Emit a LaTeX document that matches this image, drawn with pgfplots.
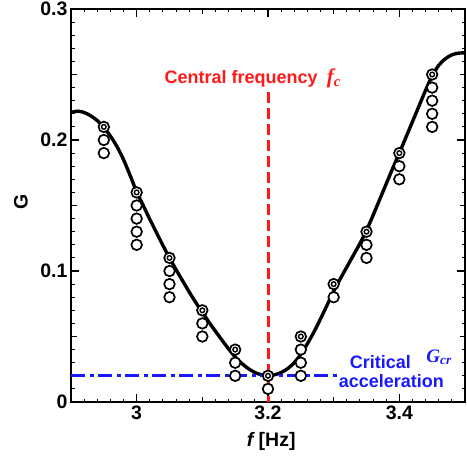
\documentclass[border=0pt]{standalone}
\usepackage{fontspec}
\setmainfont{Liberation Sans}
\newfontfamily\tms{Liberation Serif}
\usepackage{pgfplots}
\pgfplotsset{compat=1.18}
\definecolor{mred}{RGB}{255,25,25}
\definecolor{mblue}{RGB}{25,25,255}
\begin{document}
\begin{tikzpicture}
\begin{axis}[
    name=ax,
    scale only axis,
    width=394pt, height=393pt,
    xmin=2.9, xmax=3.5, ymin=0, ymax=0.3,
    xtick={3,3.2,3.4},
    ytick={0,0.1,0.2,0.3},
    minor xtick={2.92,2.94,2.96,2.98,3.02,3.04,3.06,3.08,3.12,3.14,3.16,3.18,3.22,3.24,3.26,3.28,3.32,3.34,3.36,3.38,3.42,3.44,3.46,3.48},
    minor ytick={0.01,0.02,0.03,0.04,0.06,0.07,0.08,0.09,0.11,0.12,0.13,0.14,0.16,0.17,0.18,0.19,0.21,0.22,0.23,0.24,0.26,0.27,0.28,0.29},
    extra x ticks={3.1,3.3},
    extra y ticks={0.05,0.15,0.25},
    extra x tick labels={},
    extra y tick labels={},
    extra tick style={major tick length=5.5pt},
    tick align=inside,
    major tick length=8pt,
    minor tick length=3.5pt,
    tick style={line width=1.1pt, black},
    axis line style={line width=2pt},
    ticklabel style={font=\fontsize{19.5}{19.5}\selectfont\bfseries},
    /pgf/number format/assume math mode=true,
    xlabel={{\bfseries\itshape f} \bfseries [Hz]},
    ylabel={\bfseries G},
    every axis x label/.style={at={(axis description cs:0.508,-0.101)}, anchor=center, font=\fontsize{19.5}{19.5}\selectfont},
    every axis y label/.style={at={(axis description cs:-0.127,0.51)}, anchor=center, rotate=90, font=\fontsize{19.5}{19.5}\selectfont},
]

% fitted curve
\addplot[black, line width=3.4pt, smooth] coordinates {
(2.90,0.2210) (2.91,0.2220) (2.92,0.2210) (2.93,0.2185) (2.94,0.2148)
(2.95,0.2095) (2.96,0.2030) (2.97,0.1950) (2.98,0.1850) (2.99,0.1730)
(3.00,0.1605) (3.01,0.1500) (3.02,0.1395) (3.03,0.1295) (3.04,0.1195)
(3.05,0.1100) (3.06,0.1010) (3.07,0.0925) (3.08,0.0840) (3.09,0.0760)
(3.10,0.0685) (3.11,0.0610) (3.12,0.0540) (3.13,0.0472) (3.14,0.0405)
(3.15,0.0345) (3.16,0.0295) (3.17,0.0255) (3.18,0.0225) (3.19,0.0208)
(3.20,0.0202) (3.21,0.0208) (3.22,0.0225) (3.23,0.0255) (3.24,0.0300)
(3.25,0.0365) (3.26,0.0445) (3.27,0.0535) (3.28,0.0635) (3.29,0.0740)
(3.30,0.0845) (3.31,0.0940) (3.32,0.1030) (3.33,0.1120) (3.34,0.1210)
(3.35,0.1310) (3.36,0.1425) (3.37,0.1545) (3.38,0.1665) (3.39,0.1785)
(3.40,0.1900) (3.41,0.2020) (3.42,0.2140) (3.43,0.2260) (3.44,0.2380)
(3.45,0.2490) (3.46,0.2570) (3.47,0.2620) (3.48,0.2650) (3.49,0.2663)
(3.50,0.2665)
};

% critical acceleration
\addplot[mblue, line width=3pt, dash pattern=on 14pt off 4.5pt on 4pt off 4.5pt] coordinates {(2.9,0.02) (3.305,0.02)};

% measured points
\addplot[only marks, mark=*, mark size=5.3pt, mark options={draw=black, fill=white, line width=1.7pt}] coordinates {
(2.95,0.20) (2.95,0.19)
(3.00,0.15) (3.00,0.14) (3.00,0.13) (3.00,0.12)
(3.05,0.10) (3.05,0.09) (3.05,0.08)
(3.10,0.06) (3.10,0.05)
(3.15,0.03) (3.15,0.02)
(3.20,0.01)
(3.25,0.04) (3.25,0.03) (3.25,0.02)
(3.30,0.08)
(3.35,0.12) (3.35,0.11)
(3.40,0.18) (3.40,0.17)
(3.45,0.24) (3.45,0.23) (3.45,0.22) (3.45,0.21)
};

% top points (double circles)
\addplot[only marks, mark=*, mark size=5.3pt, mark options={draw=black, fill=white, line width=1.7pt}] coordinates {
(2.95,0.21) (3.00,0.16) (3.05,0.11) (3.10,0.07) (3.15,0.04) (3.20,0.02)
(3.25,0.05) (3.30,0.09) (3.35,0.13) (3.40,0.19) (3.45,0.25)
};
\addplot[only marks, mark=*, mark size=2.3pt, mark options={draw=black, fill=white, line width=1.4pt}] coordinates {
(2.95,0.21) (3.00,0.16) (3.05,0.11) (3.10,0.07) (3.15,0.04) (3.20,0.02)
(3.25,0.05) (3.30,0.09) (3.35,0.13) (3.40,0.19) (3.45,0.25)
};

% central frequency
\addplot[mred, line width=3pt, dash pattern=on 11pt off 5pt] coordinates {(3.2,0.2364) (3.2,0)};

\node[anchor=base west, inner sep=0pt, text=mred, font=\fontsize{18}{18}\selectfont\bfseries] at (axis cs:3.0422,0.2432) {Central frequency};
\node[anchor=base west, inner sep=0pt, text=mred, font=\fontsize{21}{21}\selectfont\tms\bfseries\itshape] at (axis cs:3.2895,0.2432) {f\textsubscript{c}};
\node[anchor=base west, inner sep=0pt, text=mblue, font=\fontsize{18}{18}\selectfont\bfseries] at (axis cs:3.3243,0.0258) {Critical};
\node[anchor=base west, inner sep=0pt, text=mblue, font=\fontsize{18}{18}\selectfont\bfseries] at (axis cs:3.3076,0.0108) {acceleration};
\node[anchor=base west, inner sep=0pt, text=mblue, font=\fontsize{19}{19}\selectfont\tms\bfseries\itshape] at (axis cs:3.441,0.0303) {G\textsubscript{cr}};
\end{axis}
\pgfresetboundingbox
\path[use as bounding box] ([shift={(-71pt,-56pt)}]ax.south west) rectangle ([shift={(2pt,9pt)}]ax.north east);
\end{tikzpicture}
\end{document}
